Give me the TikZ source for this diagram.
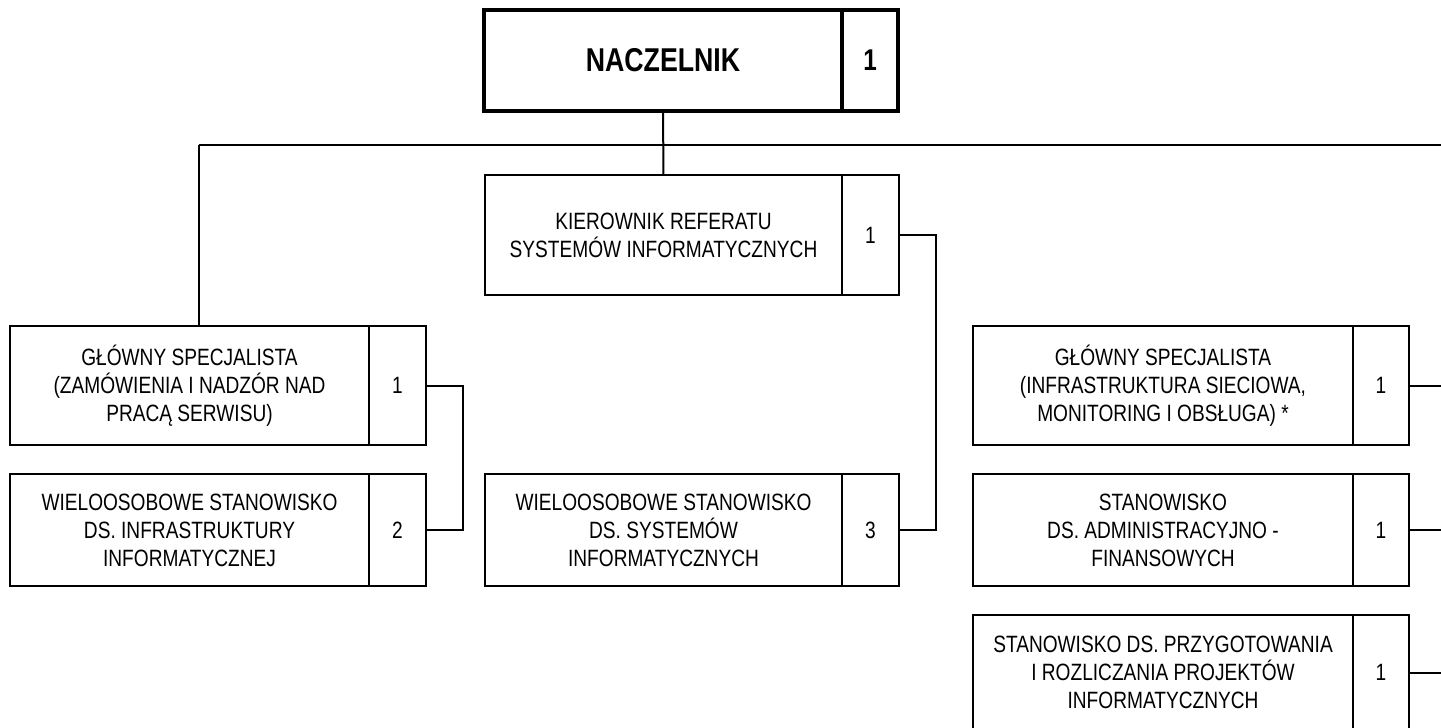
\documentclass[tikz,border=0pt]{standalone}
\usepackage{fontspec}
\setmainfont{Liberation Sans}[FakeStretch=0.81]
\usepackage{tikz}

\begin{document}
\begin{tikzpicture}[x=0.5pt, y=-0.5pt, line width=1pt,
    post/.style={draw, align=center, inner sep=2pt, outer sep=0pt, font=\fontsize{11.8}{14}\selectfont},
    num/.style={draw, anchor=west, inner sep=2pt, outer sep=0pt, font=\fontsize{11.8}{14}\selectfont}]
        \path[use as bounding box, clip] (0, 0) rectangle (1441, 728);

        % top
        \node [post, line width=2pt, minimum width=179pt, minimum height=50.5pt, font=\fontsize{16.5}{19}\selectfont\bfseries] (nacz) at (663, 60.5) {NACZELNIK};
        \node [num, line width=2pt, minimum width=28pt, minimum height=50.5pt, font=\fontsize{15}{18}\selectfont\bfseries] (naczn) at (nacz.east) {1};

        \node [post, minimum width=178.5pt, minimum height=60pt] (kier) at (663.5, 235) {KIEROWNIK REFERATU\\SYSTEMÓW INFORMATYCZNYCH};
        \node [num, minimum width=28.5pt, minimum height=60pt] (kiern) at (kier.east) {1};

        % left column
        \node [post, minimum width=179.5pt, minimum height=59.5pt] (glspA) at (189.5, 385.5) {GŁÓWNY SPECJALISTA\\(ZAMÓWIENIA I NADZÓR NAD\\PRACĄ SERWISU)};
        \node [num, minimum width=28.5pt, minimum height=59.5pt] (glspAn) at (glspA.east) {1};
        \node [post, minimum width=179.5pt, minimum height=56pt] (infra) at (189.5, 530) {WIELOOSOBOWE STANOWISKO\\DS. INFRASTRUKTURY\\INFORMATYCZNEJ};
        \node [num, minimum width=28.5pt, minimum height=56pt] (infran) at (infra.east) {2};

        % middle column
        \node [post, minimum width=178.5pt, minimum height=56pt] (syst) at (663.5, 530) {WIELOOSOBOWE STANOWISKO\\DS. SYSTEMÓW\\INFORMATYCZNYCH};
        \node [num, minimum width=28.5pt, minimum height=56pt] (systn) at (syst.east) {3};

        % right column
        \node [post, minimum width=190pt, minimum height=59.5pt] (glspB) at (1163, 385.5) {GŁÓWNY SPECJALISTA\\(INFRASTRUKTURA SIECIOWA,\\MONITORING I OBSŁUGA) *};
        \node [num, minimum width=28pt, minimum height=59.5pt] (glspBn) at (glspB.east) {1};
        \node [post, minimum width=190pt, minimum height=56pt] (admin) at (1163, 530) {STANOWISKO\\DS. ADMINISTRACYJNO -\\FINANSOWYCH};
        \node [num, minimum width=28pt, minimum height=56pt] (adminn) at (admin.east) {1};
        \node [post, minimum width=190pt, minimum height=57.5pt] (proj) at (1163, 672.5) {STANOWISKO DS. PRZYGOTOWANIA\\I ROZLICZANIA PROJEKTÓW\\INFORMATYCZNYCH};
        \node [num, minimum width=28pt, minimum height=57.5pt] (projn) at (proj.east) {1};

        \coordinate (busL) at (199, 145);
        \coordinate (busR) at (1441, 145);
        \coordinate (kbus) at (936, 236);
        \coordinate (lbus) at (463, 386);

        \draw (busL) -- (busR);
        \draw (nacz.south) -- (kier.north);
        \draw (busL) -- (busL |- glspA.north);
        \draw (kiern.east) -- (kiern.east -| kbus) -- (systn.east -| kbus) -- (systn.east);
        \draw (glspAn.east) -- (glspAn.east -| lbus) -- (infran.east -| lbus) -- (infran.east);
        \draw (glspBn.east) -- (glspBn.east -| busR);
        \draw (adminn.east) -- (adminn.east -| busR);
        \draw (projn.east) -- (projn.east -| busR);
      \end{tikzpicture}
\end{document}
